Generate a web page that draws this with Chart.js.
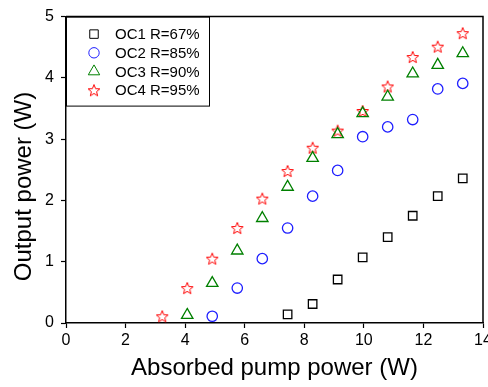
<!DOCTYPE html>
<html>
<head>
<meta charset="utf-8">
<script src="https://cdn.jsdelivr.net/npm/chart.js@4.4.0/dist/chart.umd.min.js"></script>
<style>
  html, body { margin: 0; padding: 0; background: #fff; overflow: hidden; }
</style>
</head>
<body>
<canvas id="power-chart" width="500" height="387"></canvas>
<script>
// Absorbed pump power steps (W), shared by all four couplers
const pumpPower = [3.23, 4.07, 4.91, 5.75, 6.59, 7.44, 8.28, 9.12, 9.96, 10.8, 11.64, 12.48, 13.32];

// Output power (W) per output coupler, every series ends at the last pump step
const oc1Power = [0.14, 0.31, 0.71, 1.07, 1.40, 1.75, 2.07, 2.36];
const oc2Power = [0.11, 0.57, 1.05, 1.55, 2.07, 2.49, 3.04, 3.20, 3.32, 3.82, 3.91];
const oc3Power = [0.13, 0.65, 1.18, 1.71, 2.22, 2.69, 3.08, 3.42, 3.69, 4.07, 4.21, 4.40];
const oc4Power = [0.11, 0.57, 1.05, 1.55, 2.03, 2.48, 2.86, 3.14, 3.46, 3.86, 4.34, 4.51, 4.73];

const seriesLabels = ["OC1 R=67%", "OC2 R=85%", "OC3 R=90%", "OC4 R=95%"];

// Tick settings
const xTicks = { min: 0, max: 14, step: 2 };
const yTicks = { min: 0, max: 5, step: 1 };

const FONT = "'Liberation Sans', Arial, sans-serif";

// Chart.js has no five-pointed star, so draw one on a small canvas
function makeStar(color) {
    const c = document.createElement("canvas");
    c.width = 16;
    c.height = 16;
    const g = c.getContext("2d");
    g.strokeStyle = color;
    g.lineWidth = 1.0;
    g.beginPath();
    for (let i = 0; i < 10; i++) {
        const r = i % 2 === 0 ? 6.2 : 2.7;
        const a = -Math.PI / 2 + i * Math.PI / 5;
        const px = 8 + r * Math.cos(a);
        const py = 8.6 + r * Math.sin(a);
        if (i === 0) g.moveTo(px, py); else g.lineTo(px, py);
    }
    g.closePath();
    g.stroke();
    return c;
}

const seriesColors = ["#000000", "#1f1fff", "#008000", "#ff0000"];
const seriesStyles = ["rect", "circle", "triangle", makeStar("#ff0000")];
const seriesRadius = [6, 5.2, 6.6, 6];

function toPoints(values) {
    const xs = pumpPower.slice(pumpPower.length - values.length);
    return values.map((v, i) => ({ x: xs[i], y: v }));
}

// Legend box drawn inside the top-left of the plot
const boxLegend = {
    id: "boxLegend",
    afterDatasetsDraw(chart) {
        const { ctx, chartArea } = chart;
        const left = chartArea.left, top = chartArea.top;
        ctx.save();
        ctx.strokeStyle = "#000";
        ctx.lineWidth = 1;
        ctx.strokeRect(left + 0.5, top + 0.5, 143, 89);
        ctx.font = "15px " + FONT;
        ctx.textBaseline = "middle";
        chart.data.datasets.forEach((ds, i) => {
            const y = top + 17.5 + i * 18.7;
            ctx.save();
            ctx.strokeStyle = ds.borderColor;
            ctx.fillStyle = "rgba(0,0,0,0)";
            Chart.helpers.drawPoint(ctx, {
                pointStyle: ds.pointStyle,
                radius: ds.pointRadius,
                borderWidth: ds.borderWidth,
                rotation: 0
            }, left + 28, y);
            ctx.restore();
            ctx.fillStyle = "#000";
            ctx.fillText(ds.label, left + 49, y + 1);
        });
        ctx.restore();
    }
};

// Top and right frame lines
const frame = {
    id: "frame",
    afterDraw(chart) {
        const { ctx, chartArea } = chart;
        ctx.save();
        ctx.strokeStyle = "#000";
        ctx.lineWidth = 1.5;
        ctx.beginPath();
        ctx.moveTo(chartArea.left, chartArea.top);
        ctx.lineTo(chartArea.right, chartArea.top);
        ctx.lineTo(chartArea.right, chartArea.bottom);
        ctx.stroke();
        ctx.restore();
    }
};

const seriesValues = [oc1Power, oc2Power, oc3Power, oc4Power];

new Chart(document.getElementById("power-chart"), {
    type: "scatter",
    data: {
        datasets: seriesValues.map((vals, i) => ({
            label: seriesLabels[i],
            data: toPoints(vals),
            pointStyle: seriesStyles[i],
            pointRadius: seriesRadius[i],
            borderColor: seriesColors[i],
            backgroundColor: "rgba(0,0,0,0)",
            borderWidth: 1.3,
            showLine: false
        }))
    },
    options: {
        responsive: false,
        animation: false,
        layout: { padding: { top: 15, right: 17, bottom: 0, left: 0 } },
        plugins: {
            legend: { display: false },
            tooltip: { enabled: false }
        },
        scales: {
            x: {
                type: "linear",
                min: xTicks.min,
                max: xTicks.max,
                ticks: { stepSize: xTicks.step, color: "#000", padding: 3, font: { family: FONT, size: 16 } },
                grid: { drawOnChartArea: false, tickLength: 5, tickColor: "#000", tickWidth: 1.2 },
                border: { color: "#000", width: 1.5 },
                title: {
                    display: true,
                    text: "Absorbed pump power (W)",
                    color: "#000",
                    font: { family: FONT, size: 24 },
                    padding: { top: 0, bottom: 4 }
                },
                afterFit: (scale) => { scale.height = 64; }
            },
            y: {
                type: "linear",
                min: yTicks.min,
                max: yTicks.max,
                ticks: { stepSize: yTicks.step, color: "#000", padding: 7, font: { family: FONT, size: 16 } },
                grid: { drawOnChartArea: false, tickLength: 5, tickColor: "#000", tickWidth: 1.2 },
                border: { color: "#000", width: 1.5 },
                title: {
                    display: true,
                    text: "Output power (W)     ",
                    color: "#000",
                    font: { family: FONT, size: 24 },
                    padding: { top: 10, bottom: 0 }
                },
                afterFit: (scale) => { scale.width = 66; }
            }
        }
    },
    plugins: [boxLegend, frame]
});
</script>
</body>
</html>
